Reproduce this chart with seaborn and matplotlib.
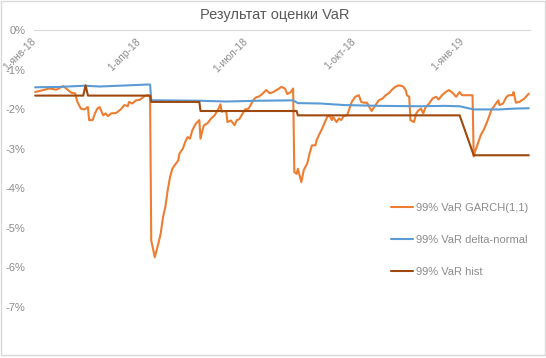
import pandas as pd
import matplotlib
matplotlib.use("Agg")
import matplotlib.pyplot as plt
import matplotlib.ticker as mticker
from matplotlib.patches import Rectangle
import seaborn as sns

# values, in percent
garch_dates = ["2018-01-02", "2018-01-09", "2018-01-14", "2018-01-20", "2018-01-26", "2018-01-30",
               "2018-02-02", "2018-02-05", "2018-02-07", "2018-02-10", "2018-02-13", "2018-02-16",
               "2018-02-17", "2018-02-20", "2018-02-22", "2018-02-24", "2018-02-26", "2018-03-01",
               "2018-03-03", "2018-03-05", "2018-03-08", "2018-03-12", "2018-03-16", "2018-03-19",
               "2018-03-22", "2018-03-23", "2018-03-26", "2018-03-29", "2018-04-01", "2018-04-05",
               "2018-04-08", "2018-04-10", "2018-04-11", "2018-04-14", "2018-04-17", "2018-04-19",
               "2018-04-21", "2018-04-23", "2018-04-25", "2018-04-27", "2018-04-29", "2018-05-02",
               "2018-05-04", "2018-05-05", "2018-05-08", "2018-05-10", "2018-05-12", "2018-05-14",
               "2018-05-16", "2018-05-19", "2018-05-22", "2018-05-23", "2018-05-25", "2018-05-26",
               "2018-05-29", "2018-06-01", "2018-06-04", "2018-06-07", "2018-06-09", "2018-06-10",
               "2018-06-12", "2018-06-14", "2018-06-15", "2018-06-18", "2018-06-21", "2018-06-23",
               "2018-06-25", "2018-06-28", "2018-06-30", "2018-07-03", "2018-07-07", "2018-07-09",
               "2018-07-12", "2018-07-15", "2018-07-18", "2018-07-21", "2018-07-24", "2018-07-28",
               "2018-07-31", "2018-08-03", "2018-08-05", "2018-08-08", "2018-08-10", "2018-08-11",
               "2018-08-13", "2018-08-14", "2018-08-17", "2018-08-19", "2018-08-22", "2018-08-24",
               "2018-08-26", "2018-08-29", "2018-08-30", "2018-09-01", "2018-09-03", "2018-09-05",
               "2018-09-08", "2018-09-10", "2018-09-12", "2018-09-13", "2018-09-16", "2018-09-18",
               "2018-09-20", "2018-09-22", "2018-09-25", "2018-09-27", "2018-09-29", "2018-10-02",
               "2018-10-05", "2018-10-07", "2018-10-09", "2018-10-12", "2018-10-14", "2018-10-16",
               "2018-10-19", "2018-10-22", "2018-10-25", "2018-10-28", "2018-10-31", "2018-11-02",
               "2018-11-05", "2018-11-08", "2018-11-11", "2018-11-12", "2018-11-14", "2018-11-15",
               "2018-11-17", "2018-11-18", "2018-11-21", "2018-11-23", "2018-11-25", "2018-11-27",
               "2018-11-29", "2018-12-01", "2018-12-04", "2018-12-07", "2018-12-10", "2018-12-12",
               "2018-12-15", "2018-12-18", "2018-12-21", "2018-12-24", "2018-12-27", "2018-12-30",
               "2019-01-01", "2019-01-10", "2019-01-11", "2019-01-12", "2019-01-14", "2019-01-17",
               "2019-01-20", "2019-01-23", "2019-01-26", "2019-01-29", "2019-02-01", "2019-02-02",
               "2019-02-05", "2019-02-08", "2019-02-10", "2019-02-13", "2019-02-14", "2019-02-16",
               "2019-02-19", "2019-02-23", "2019-02-27"]
garch_values = [-1.57, -1.52, -1.48, -1.51, -1.42, -1.52,
                -1.59, -1.60, -1.82, -1.99, -2.01, -1.95,
                -2.28, -2.28, -2.11, -1.99, -1.95, -2.16,
                -2.11, -2.18, -2.11, -2.10, -2.01, -1.90,
                -1.93, -1.82, -1.86, -1.78, -1.77, -1.68,
                -1.65, -1.70, -5.33, -5.75, -5.41, -5.16,
                -4.74, -4.48, -4.06, -3.72, -3.51, -3.38,
                -3.30, -3.13, -3.00, -2.83, -2.71, -2.75,
                -2.54, -2.37, -2.28, -2.75, -2.50, -2.41,
                -2.36, -2.24, -2.16, -2.01, -1.88, -2.07,
                -2.05, -2.07, -2.33, -2.29, -2.41, -2.28,
                -2.26, -2.11, -2.01, -1.99, -1.78, -1.71,
                -1.68, -1.61, -1.52, -1.60, -1.57, -1.50,
                -1.44, -1.48, -1.62, -1.57, -1.48, -3.60,
                -3.64, -3.51, -3.85, -3.55, -3.38, -3.13,
                -2.92, -2.92, -2.79, -2.66, -2.54, -2.41,
                -2.20, -2.16, -2.28, -2.20, -2.33, -2.24,
                -2.28, -2.18, -2.16, -1.99, -1.82, -1.69,
                -1.65, -1.82, -1.84, -1.84, -1.95, -2.05,
                -1.91, -1.78, -1.74, -1.65, -1.59, -1.52,
                -1.44, -1.40, -1.42, -1.44, -1.52, -1.65,
                -1.69, -2.28, -2.33, -2.11, -2.03, -1.99,
                -2.11, -1.95, -1.86, -1.73, -1.69, -1.76,
                -1.65, -1.57, -1.52, -1.59, -1.69, -1.57,
                -1.65, -1.65, -3.20, -3.09, -2.92, -2.66,
                -2.50, -2.28, -2.03, -1.90, -1.78, -1.90,
                -1.86, -1.69, -1.65, -1.65, -1.57, -1.84,
                -1.82, -1.74, -1.61]

delta_dates = ["2018-01-02", "2018-01-23", "2018-02-13", "2018-02-26", "2018-03-15", "2018-04-08",
               "2018-04-10", "2018-04-11", "2018-04-18", "2018-05-22", "2018-06-14", "2018-07-12",
               "2018-08-10", "2018-08-14", "2018-09-02", "2018-09-23", "2018-10-23", "2018-11-26",
               "2018-12-17", "2018-12-30", "2019-01-11", "2019-02-02", "2019-02-14", "2019-02-27"]
delta_values = [-1.45, -1.44, -1.41, -1.43, -1.41, -1.38,
                -1.38, -1.78, -1.78, -1.79, -1.81, -1.79,
                -1.78, -1.85, -1.86, -1.90, -1.92, -1.93,
                -1.92, -1.93, -2.01, -2.01, -1.99, -1.98]

hist_dates = ["2018-01-02", "2018-02-12", "2018-02-14", "2018-02-16", "2018-04-10", "2018-04-11",
              "2018-05-22", "2018-05-23", "2018-08-13", "2018-08-14", "2018-12-30", "2019-01-11",
              "2019-02-27"]
hist_values = [-1.66, -1.66, -1.40, -1.66, -1.66, -1.82,
               -1.82, -2.05, -2.05, -2.16, -2.16, -3.17,
               -3.17]

series_names = ["99% VaR GARCH(1,1)", "99% VaR delta-normal", "99% VaR hist"]
series_colors = ["#ED7D31", "#5B9BD5", "#9E480E"]

tick_dates = ["2018-01-01", "2018-04-01", "2018-07-01", "2018-10-01", "2019-01-01"]
tick_labels = ["1-янв-18", "1-апр-18", "1-июл-18", "1-окт-18", "1-янв-19"]

sns.set_style("white")
plt.rcParams["font.family"] = ["Liberation Sans", "DejaVu Sans"]

fig = plt.figure(figsize=(5.46, 3.58), dpi=100)
ax = fig.add_axes([34 / 546, 1 - 306.6 / 358, (530 - 34) / 546, (306.6 - 30) / 358])

for name, color, d, v in zip(series_names, series_colors,
                             [garch_dates, delta_dates, hist_dates],
                             [garch_values, delta_values, hist_values]):
    sns.lineplot(x=pd.to_datetime(d), y=v, color=color, linewidth=1.5, label=name, ax=ax, legend=False)

ax.set_ylim(-7, 0)
ax.set_xlim(pd.Timestamp("2018-01-01"), pd.Timestamp("2019-02-28"))
ax.set_yticks(range(-7, 1))
ax.yaxis.set_major_formatter(mticker.FuncFormatter(lambda v, p: f"{int(round(v))}%"))
ax.set_xticks(pd.to_datetime(tick_dates))
ax.set_xticklabels(tick_labels)
ax.set_xlabel("")
ax.set_ylabel("")

for s in ["left", "right", "top"]:
    ax.spines[s].set_visible(False)
ax.spines["bottom"].set_position(("data", 0))
ax.spines["bottom"].set_color("#d9d9d9")
ax.tick_params(axis="x", colors="#d9d9d9", labelcolor="#8c8c8c", labelsize=7.5, length=3, pad=4)
ax.tick_params(axis="y", labelcolor="#8c8c8c", labelsize=8, length=0, pad=6)
plt.setp(ax.get_xticklabels(), rotation=45, ha="right", va="center", rotation_mode="anchor")
ax.grid(False)

fig.text(0.503, 1 - 14.5 / 358, "Результат оценки VaR", ha="center", va="center",
         fontsize=10.5, color="#595959")

handles, labels = ax.get_legend_handles_labels()
fig.legend(handles, labels, loc="center left", bbox_to_anchor=(391 / 546, 1 - 240 / 358),
           frameon=False, fontsize=8, labelcolor="#8c8c8c", handlelength=2.0,
           handletextpad=0.25, labelspacing=2.0, borderpad=0, borderaxespad=0)

fig.patches.append(Rectangle((1 / 546, 3 / 358), 544 / 546, 354 / 358, transform=fig.transFigure,
                             fill=False, edgecolor="#d9d9d9", linewidth=1))

fig.savefig("out.png", dpi=100)
